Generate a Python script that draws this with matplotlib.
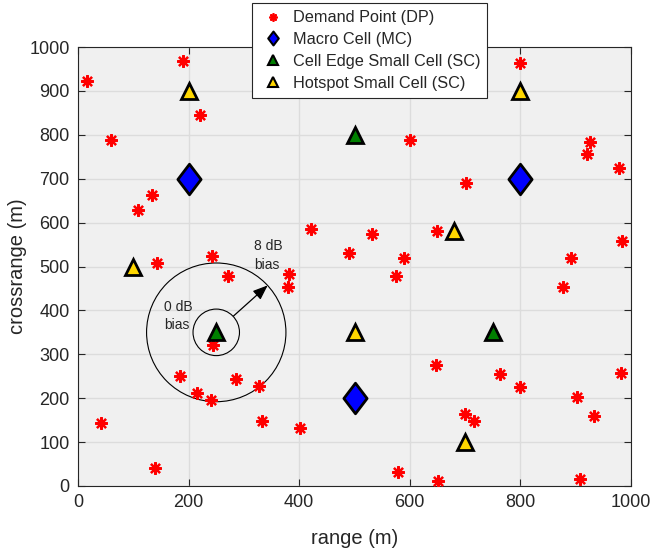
import matplotlib
matplotlib.use("Agg")
import matplotlib.pyplot as plt
from matplotlib.lines import Line2D
from matplotlib.patches import Ellipse
from matplotlib.path import Path

plt.rcParams["font.family"] = ["Liberation Sans", "DejaVu Sans"]

# ── data ────────────────────────────────────────────────────────────────────
dp_x = [16, 190, 220, 59, 134, 109, 143, 243, 421, 490, 531, 799, 600, 926,
        920, 978, 702, 590, 650, 892, 983, 271, 382, 380, 244, 184, 286, 327,
        215, 241, 41, 333, 401, 139, 575, 877, 647, 763, 800, 982, 902, 700,
        716, 933, 578, 651, 908]
dp_y = [923, 968, 846, 789, 663, 628, 507, 525, 586, 531, 573, 964, 789, 783,
        756, 724, 690, 519, 582, 519, 558, 478, 484, 454, 322, 251, 243, 227,
        211, 196, 143, 149, 132, 42, 478, 454, 275, 256, 225, 258, 203, 164,
        148, 160, 32, 11, 17]

mc_x = [200, 800, 500]
mc_y = [700, 700, 200]

edge_x = [500, 250, 750]
edge_y = [800, 350, 350]

hot_x = [200, 800, 100, 680, 500, 700]
hot_y = [900, 900, 500, 580, 350, 100]

legend_labels = ["Demand Point (DP)", "Macro Cell (MC)",
                 "Cell Edge Small Cell (SC)", "Hotspot Small Cell (SC)"]

# ── styles ──────────────────────────────────────────────────────────────────
C_BG = "#f0f0f0"
C_GRID = "#dcdcdc"
C_AX = "#262626"
C_DP = "#ff0000"
C_MC = "#0000ff"
C_EDGE = "#007f00"
C_HOT = "#ffd700"

diamond = Path([(0, 1), (0.76, 0), (0, -1), (-0.76, 0), (0, 1)],
               [Path.MOVETO, Path.LINETO, Path.LINETO, Path.LINETO, Path.CLOSEPOLY])
asterisk = (8, 2, 0)

fig = plt.figure(figsize=(6.53, 5.5), dpi=100)
ax = fig.add_axes([78 / 653, 1 - 486 / 550, 553 / 653, 439 / 550])
ax.set_facecolor(C_BG)

ax.plot(dp_x, dp_y, linestyle="none", marker=asterisk, ms=9, mew=1.6,
        color=C_DP, zorder=3)
ax.plot(mc_x, mc_y, linestyle="none", marker=diamond, ms=22, mew=2,
        mfc=C_MC, mec="black", zorder=4)
ax.plot(edge_x, edge_y, linestyle="none", marker="^", ms=12, mew=2,
        mfc=C_EDGE, mec="black", zorder=4)
ax.plot(hot_x, hot_y, linestyle="none", marker="^", ms=12, mew=2,
        mfc=C_HOT, mec="black", zorder=4)

# bias circles around the cell edge small cell
ax.add_patch(Ellipse((250, 350), 84, 106, fill=False, ec="black", lw=0.8, zorder=2))
ax.add_patch(Ellipse((250, 350), 252, 316, fill=False, ec="black", lw=0.8, zorder=2))
ax.annotate("", xy=(343, 457), xytext=(281, 387),
            arrowprops=dict(arrowstyle="-|>,head_length=0.9,head_width=0.35",
                            color="black", lw=0.9, shrinkA=0, shrinkB=0),
            zorder=5)
ax.text(156, 387, "0 dB\nbias", ha="left", va="center", fontsize=10,
        color=C_AX, linespacing=1.4)
ax.text(318, 525, "8 dB\nbias", ha="left", va="center", fontsize=10,
        color=C_AX, linespacing=1.4)

ax.set_xlim(0, 1000)
ax.set_ylim(0, 1000)
ax.set_xticks(range(0, 1001, 200))
ax.set_yticks(range(0, 1001, 100))
ax.grid(True, color=C_GRID, lw=1)
ax.set_axisbelow(True)
ax.tick_params(direction="in", length=5, width=0.8, colors=C_AX,
               labelsize=13, top=True, right=True, pad=6)
for s in ax.spines.values():
    s.set_color(C_AX)
    s.set_linewidth(0.8)
ax.set_xlabel("range (m)", fontsize=14.5, color=C_AX, labelpad=13)
ax.set_ylabel("crossrange (m)", fontsize=14.5, color=C_AX, labelpad=2)

handles = [
    Line2D([], [], linestyle="none", marker=asterisk, ms=6, mew=1.3, color=C_DP),
    Line2D([], [], linestyle="none", marker=diamond, ms=10, mew=1.5,
           mfc=C_MC, mec="black"),
    Line2D([], [], linestyle="none", marker="^", ms=7, mew=1.5,
           mfc=C_EDGE, mec="black"),
    Line2D([], [], linestyle="none", marker="^", ms=7, mew=1.5,
           mfc=C_HOT, mec="black"),
]
leg = fig.legend(handles, legend_labels, loc="upper left",
                 bbox_to_anchor=(252 / 653, 1 - 3 / 550), fontsize=11.7,
                 frameon=True, fancybox=False, framealpha=1, borderpad=0.45,
                 labelspacing=0.42, handletextpad=0.35, handlelength=1.7,
                 borderaxespad=0)
leg.get_frame().set_edgecolor(C_AX)
leg.get_frame().set_linewidth(0.8)
for t in leg.get_texts():
    t.set_color(C_AX)
leg.set_zorder(10)

fig.savefig("out.png", dpi=100, facecolor="white")
